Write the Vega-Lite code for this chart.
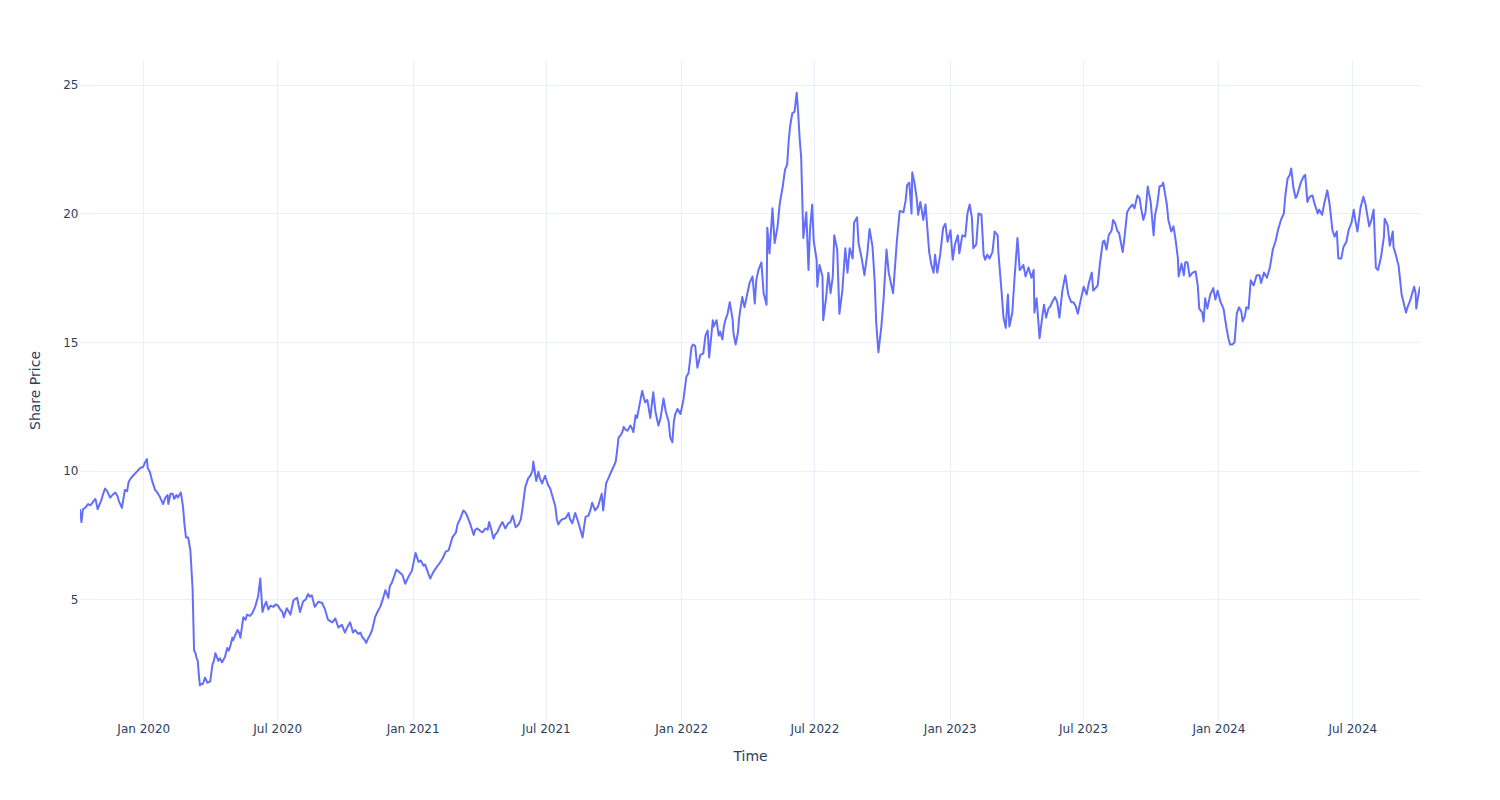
{
  "$schema": "https://vega.github.io/schema/vega-lite/v6.json",
  "width": 1340,
  "height": 660,
  "autosize": {"type": "none"},
  "padding": {"left": 80, "top": 60, "right": 80, "bottom": 80},
  "background": "white",
  "config": {
    "view": {"stroke": null},
    "axis": {
      "domain": false,
      "ticks": false,
      "grid": true,
      "gridColor": "#EBF0F8",
      "gridWidth": 1,
      "labelColor": "#2a3f5f",
      "labelFont": "DejaVu Sans",
      "labelFontSize": 12,
      "titleColor": "#2a3f5f",
      "titleFont": "DejaVu Sans",
      "titleFontSize": 14,
      "titleFontWeight": "normal"
    }
  },
  "data": {
    "values": [
      {"date":"2019-10-07","price":8.5},{"date":"2019-10-09","price":8.0},{"date":"2019-10-11","price":8.5},{"date":"2019-10-14","price":8.55},{"date":"2019-10-18","price":8.7},{"date":"2019-10-21","price":8.65},{"date":"2019-10-24","price":8.75},{"date":"2019-10-25","price":8.8},{"date":"2019-10-28","price":8.9},{"date":"2019-10-31","price":8.5},
      {"date":"2019-11-05","price":8.85},{"date":"2019-11-07","price":9.05},{"date":"2019-11-10","price":9.3},{"date":"2019-11-13","price":9.2},{"date":"2019-11-17","price":8.95},{"date":"2019-11-20","price":9.05},{"date":"2019-11-24","price":9.15},{"date":"2019-11-27","price":9.0},{"date":"2019-11-29","price":8.8},
      {"date":"2019-12-03","price":8.55},{"date":"2019-12-07","price":9.25},{"date":"2019-12-10","price":9.2},{"date":"2019-12-12","price":9.55},{"date":"2019-12-15","price":9.7},{"date":"2019-12-18","price":9.8},{"date":"2019-12-23","price":9.95},{"date":"2019-12-28","price":10.1},
      {"date":"2020-01-01","price":10.15},{"date":"2020-01-03","price":10.3},{"date":"2020-01-06","price":10.45},{"date":"2020-01-07","price":10.1},{"date":"2020-01-10","price":9.95},{"date":"2020-01-13","price":9.6},{"date":"2020-01-17","price":9.25},{"date":"2020-01-20","price":9.15},{"date":"2020-01-24","price":8.95},{"date":"2020-01-27","price":8.75},{"date":"2020-01-28","price":8.7},{"date":"2020-01-31","price":8.95},
      {"date":"2020-02-03","price":9.05},{"date":"2020-02-04","price":8.7},{"date":"2020-02-07","price":9.1},{"date":"2020-02-10","price":9.1},{"date":"2020-02-12","price":8.9},{"date":"2020-02-15","price":9.05},{"date":"2020-02-17","price":8.95},{"date":"2020-02-21","price":9.15},{"date":"2020-02-24","price":8.6},{"date":"2020-02-26","price":7.9},{"date":"2020-02-28","price":7.4},
      {"date":"2020-03-02","price":7.4},{"date":"2020-03-05","price":6.9},{"date":"2020-03-08","price":5.4},{"date":"2020-03-10","price":3.0},{"date":"2020-03-12","price":2.9},{"date":"2020-03-13","price":2.75},{"date":"2020-03-15","price":2.6},{"date":"2020-03-16","price":2.25},{"date":"2020-03-17","price":1.9},{"date":"2020-03-18","price":1.65},{"date":"2020-03-20","price":1.7},{"date":"2020-03-22","price":1.7},{"date":"2020-03-25","price":1.95},{"date":"2020-03-28","price":1.75},
      {"date":"2020-04-01","price":1.8},{"date":"2020-04-04","price":2.45},{"date":"2020-04-06","price":2.6},{"date":"2020-04-08","price":2.9},{"date":"2020-04-10","price":2.75},{"date":"2020-04-12","price":2.6},{"date":"2020-04-14","price":2.7},{"date":"2020-04-17","price":2.55},{"date":"2020-04-21","price":2.75},{"date":"2020-04-24","price":3.1},{"date":"2020-04-26","price":3.0},{"date":"2020-04-28","price":3.15},
      {"date":"2020-05-01","price":3.5},{"date":"2020-05-02","price":3.4},{"date":"2020-05-05","price":3.6},{"date":"2020-05-08","price":3.8},{"date":"2020-05-10","price":3.7},{"date":"2020-05-12","price":3.5},{"date":"2020-05-16","price":4.3},{"date":"2020-05-19","price":4.2},{"date":"2020-05-21","price":4.4},{"date":"2020-05-25","price":4.35},{"date":"2020-05-28","price":4.45},
      {"date":"2020-06-01","price":4.7},{"date":"2020-06-05","price":5.1},{"date":"2020-06-08","price":5.8},{"date":"2020-06-11","price":4.5},{"date":"2020-06-13","price":4.7},{"date":"2020-06-16","price":4.9},{"date":"2020-06-19","price":4.6},{"date":"2020-06-22","price":4.75},{"date":"2020-06-26","price":4.7},{"date":"2020-06-29","price":4.8},
      {"date":"2020-07-02","price":4.75},{"date":"2020-07-05","price":4.6},{"date":"2020-07-08","price":4.5},{"date":"2020-07-10","price":4.3},{"date":"2020-07-14","price":4.65},{"date":"2020-07-19","price":4.4},{"date":"2020-07-23","price":4.95},{"date":"2020-07-25","price":5.0},{"date":"2020-07-28","price":5.05},
      {"date":"2020-08-01","price":4.5},{"date":"2020-08-05","price":4.9},{"date":"2020-08-09","price":5.0},{"date":"2020-08-12","price":5.2},{"date":"2020-08-14","price":5.1},{"date":"2020-08-17","price":5.15},{"date":"2020-08-21","price":4.7},{"date":"2020-08-26","price":4.9},{"date":"2020-08-31","price":4.85},
      {"date":"2020-09-04","price":4.6},{"date":"2020-09-08","price":4.2},{"date":"2020-09-11","price":4.15},{"date":"2020-09-14","price":4.1},{"date":"2020-09-18","price":4.25},{"date":"2020-09-22","price":3.9},{"date":"2020-09-27","price":4.0},
      {"date":"2020-10-01","price":3.7},{"date":"2020-10-05","price":3.95},{"date":"2020-10-08","price":4.1},{"date":"2020-10-12","price":3.7},{"date":"2020-10-15","price":3.8},{"date":"2020-10-19","price":3.65},{"date":"2020-10-22","price":3.7},{"date":"2020-10-25","price":3.5},{"date":"2020-10-27","price":3.45},{"date":"2020-10-30","price":3.3},
      {"date":"2020-11-02","price":3.5},{"date":"2020-11-04","price":3.6},{"date":"2020-11-07","price":3.8},{"date":"2020-11-11","price":4.3},{"date":"2020-11-15","price":4.55},{"date":"2020-11-18","price":4.7},{"date":"2020-11-21","price":4.95},{"date":"2020-11-25","price":5.35},{"date":"2020-11-29","price":5.05},
      {"date":"2020-12-01","price":5.5},{"date":"2020-12-04","price":5.65},{"date":"2020-12-07","price":5.9},{"date":"2020-12-10","price":6.15},{"date":"2020-12-14","price":6.05},{"date":"2020-12-18","price":5.95},{"date":"2020-12-22","price":5.6},{"date":"2020-12-26","price":5.85},{"date":"2020-12-28","price":5.95},{"date":"2020-12-31","price":6.1},
      {"date":"2021-01-05","price":6.8},{"date":"2021-01-09","price":6.45},{"date":"2021-01-12","price":6.5},{"date":"2021-01-16","price":6.3},{"date":"2021-01-18","price":6.35},{"date":"2021-01-21","price":6.1},{"date":"2021-01-25","price":5.8},{"date":"2021-01-29","price":6.05},
      {"date":"2021-02-04","price":6.3},{"date":"2021-02-08","price":6.45},{"date":"2021-02-11","price":6.6},{"date":"2021-02-15","price":6.85},{"date":"2021-02-19","price":6.9},{"date":"2021-02-21","price":7.1},{"date":"2021-02-24","price":7.4},
      {"date":"2021-03-01","price":7.6},{"date":"2021-03-03","price":7.9},{"date":"2021-03-07","price":8.15},{"date":"2021-03-11","price":8.45},{"date":"2021-03-13","price":8.4},{"date":"2021-03-16","price":8.25},{"date":"2021-03-20","price":7.95},{"date":"2021-03-25","price":7.5},{"date":"2021-03-27","price":7.7},{"date":"2021-03-30","price":7.75},
      {"date":"2021-04-03","price":7.65},{"date":"2021-04-06","price":7.6},{"date":"2021-04-10","price":7.75},{"date":"2021-04-13","price":7.7},{"date":"2021-04-15","price":8.0},{"date":"2021-04-18","price":7.7},{"date":"2021-04-21","price":7.35},{"date":"2021-04-23","price":7.5},{"date":"2021-04-26","price":7.6},{"date":"2021-04-30","price":7.85},
      {"date":"2021-05-03","price":8.0},{"date":"2021-05-07","price":7.75},{"date":"2021-05-11","price":7.95},{"date":"2021-05-14","price":8.0},{"date":"2021-05-17","price":8.25},{"date":"2021-05-21","price":7.8},{"date":"2021-05-25","price":7.9},{"date":"2021-05-28","price":8.1},{"date":"2021-05-30","price":8.45},
      {"date":"2021-06-03","price":9.35},{"date":"2021-06-07","price":9.7},{"date":"2021-06-10","price":9.8},{"date":"2021-06-13","price":10.0},{"date":"2021-06-14","price":10.35},{"date":"2021-06-18","price":9.6},{"date":"2021-06-21","price":9.95},{"date":"2021-06-23","price":9.7},{"date":"2021-06-26","price":9.5},{"date":"2021-06-30","price":9.8},
      {"date":"2021-07-04","price":9.45},{"date":"2021-07-07","price":9.3},{"date":"2021-07-10","price":9.0},{"date":"2021-07-14","price":8.6},{"date":"2021-07-16","price":8.1},{"date":"2021-07-18","price":7.9},{"date":"2021-07-21","price":8.05},{"date":"2021-07-23","price":8.1},{"date":"2021-07-28","price":8.15},
      {"date":"2021-08-01","price":8.35},{"date":"2021-08-03","price":8.1},{"date":"2021-08-06","price":7.95},{"date":"2021-08-10","price":8.35},{"date":"2021-08-14","price":8.0},{"date":"2021-08-17","price":7.7},{"date":"2021-08-20","price":7.4},{"date":"2021-08-24","price":8.2},{"date":"2021-08-28","price":8.25},{"date":"2021-08-31","price":8.5},
      {"date":"2021-09-02","price":8.75},{"date":"2021-09-06","price":8.45},{"date":"2021-09-10","price":8.6},{"date":"2021-09-15","price":9.1},{"date":"2021-09-17","price":8.45},{"date":"2021-09-21","price":9.5},{"date":"2021-09-24","price":9.7},{"date":"2021-09-27","price":9.9},
      {"date":"2021-10-01","price":10.15},{"date":"2021-10-04","price":10.35},{"date":"2021-10-06","price":10.8},{"date":"2021-10-08","price":11.3},{"date":"2021-10-10","price":11.35},{"date":"2021-10-13","price":11.5},{"date":"2021-10-15","price":11.7},{"date":"2021-10-17","price":11.6},{"date":"2021-10-20","price":11.55},{"date":"2021-10-24","price":11.75},{"date":"2021-10-26","price":11.65},{"date":"2021-10-28","price":11.5},{"date":"2021-10-31","price":12.15},
      {"date":"2021-11-02","price":12.05},{"date":"2021-11-05","price":12.5},{"date":"2021-11-09","price":13.1},{"date":"2021-11-13","price":12.65},{"date":"2021-11-16","price":12.75},{"date":"2021-11-20","price":12.05},{"date":"2021-11-24","price":13.05},{"date":"2021-11-27","price":12.3},
      {"date":"2021-12-01","price":11.75},{"date":"2021-12-04","price":12.05},{"date":"2021-12-08","price":12.8},{"date":"2021-12-11","price":12.3},{"date":"2021-12-15","price":11.9},{"date":"2021-12-17","price":11.3},{"date":"2021-12-20","price":11.1},{"date":"2021-12-22","price":11.9},{"date":"2021-12-24","price":12.2},{"date":"2021-12-27","price":12.4},{"date":"2021-12-31","price":12.2},
      {"date":"2022-01-04","price":12.75},{"date":"2022-01-08","price":13.65},{"date":"2022-01-11","price":13.8},{"date":"2022-01-15","price":14.8},{"date":"2022-01-17","price":14.9},{"date":"2022-01-20","price":14.85},{"date":"2022-01-23","price":14.0},{"date":"2022-01-27","price":14.5},{"date":"2022-01-31","price":14.55},
      {"date":"2022-02-03","price":15.25},{"date":"2022-02-06","price":15.45},{"date":"2022-02-08","price":14.4},{"date":"2022-02-13","price":15.85},{"date":"2022-02-14","price":15.6},{"date":"2022-02-18","price":15.85},{"date":"2022-02-21","price":15.25},{"date":"2022-02-23","price":15.4},{"date":"2022-02-26","price":15.1},{"date":"2022-02-28","price":15.6},
      {"date":"2022-03-02","price":15.85},{"date":"2022-03-05","price":16.1},{"date":"2022-03-08","price":16.55},{"date":"2022-03-10","price":16.2},{"date":"2022-03-12","price":15.85},{"date":"2022-03-13","price":15.35},{"date":"2022-03-16","price":14.9},{"date":"2022-03-19","price":15.35},{"date":"2022-03-21","price":16.0},{"date":"2022-03-25","price":16.75},{"date":"2022-03-28","price":16.35},
      {"date":"2022-04-01","price":16.9},{"date":"2022-04-04","price":17.3},{"date":"2022-04-08","price":17.55},{"date":"2022-04-11","price":16.5},{"date":"2022-04-13","price":17.4},{"date":"2022-04-16","price":17.8},{"date":"2022-04-20","price":18.1},{"date":"2022-04-23","price":16.9},{"date":"2022-04-27","price":16.45},{"date":"2022-04-28","price":19.45},
      {"date":"2022-05-01","price":18.45},{"date":"2022-05-05","price":20.2},{"date":"2022-05-08","price":18.85},{"date":"2022-05-12","price":19.5},{"date":"2022-05-15","price":20.4},{"date":"2022-05-19","price":21.05},{"date":"2022-05-22","price":21.7},{"date":"2022-05-25","price":21.9},{"date":"2022-05-27","price":22.8},{"date":"2022-05-29","price":23.4},
      {"date":"2022-06-01","price":23.9},{"date":"2022-06-04","price":23.95},{"date":"2022-06-07","price":24.7},{"date":"2022-06-09","price":23.9},{"date":"2022-06-11","price":22.9},{"date":"2022-06-13","price":22.2},{"date":"2022-06-16","price":19.05},{"date":"2022-06-20","price":20.05},{"date":"2022-06-23","price":17.8},{"date":"2022-06-25","price":19.35},{"date":"2022-06-28","price":20.35},{"date":"2022-06-30","price":18.95},
      {"date":"2022-07-04","price":18.2},{"date":"2022-07-05","price":17.15},{"date":"2022-07-08","price":18.0},{"date":"2022-07-12","price":17.55},{"date":"2022-07-13","price":15.85},{"date":"2022-07-17","price":16.75},{"date":"2022-07-20","price":17.7},{"date":"2022-07-23","price":16.9},{"date":"2022-07-26","price":17.55},{"date":"2022-07-28","price":19.15},
      {"date":"2022-08-01","price":18.6},{"date":"2022-08-04","price":16.1},{"date":"2022-08-08","price":17.0},{"date":"2022-08-12","price":18.65},{"date":"2022-08-15","price":17.7},{"date":"2022-08-18","price":18.65},{"date":"2022-08-22","price":18.25},{"date":"2022-08-24","price":19.65},{"date":"2022-08-28","price":19.85},{"date":"2022-08-30","price":18.85},
      {"date":"2022-09-03","price":18.3},{"date":"2022-09-07","price":17.6},{"date":"2022-09-11","price":18.45},{"date":"2022-09-14","price":19.4},{"date":"2022-09-18","price":18.7},{"date":"2022-09-21","price":17.35},{"date":"2022-09-23","price":15.75},{"date":"2022-09-26","price":14.6},{"date":"2022-09-30","price":15.6},
      {"date":"2022-10-03","price":16.65},{"date":"2022-10-07","price":18.6},{"date":"2022-10-10","price":17.7},{"date":"2022-10-14","price":17.15},{"date":"2022-10-16","price":16.9},{"date":"2022-10-21","price":18.9},{"date":"2022-10-25","price":20.1},{"date":"2022-10-30","price":20.05},
      {"date":"2022-11-02","price":20.5},{"date":"2022-11-04","price":21.1},{"date":"2022-11-07","price":21.2},{"date":"2022-11-10","price":20.0},{"date":"2022-11-11","price":21.6},{"date":"2022-11-14","price":21.2},{"date":"2022-11-17","price":20.6},{"date":"2022-11-19","price":19.95},{"date":"2022-11-22","price":20.45},{"date":"2022-11-26","price":19.75},{"date":"2022-11-29","price":20.35},
      {"date":"2022-12-01","price":19.6},{"date":"2022-12-04","price":18.5},{"date":"2022-12-07","price":18.0},{"date":"2022-12-10","price":17.7},{"date":"2022-12-12","price":18.4},{"date":"2022-12-15","price":17.7},{"date":"2022-12-19","price":18.4},{"date":"2022-12-23","price":19.45},{"date":"2022-12-26","price":19.6},{"date":"2022-12-29","price":18.9},
      {"date":"2023-01-02","price":19.35},{"date":"2023-01-05","price":18.2},{"date":"2023-01-08","price":18.8},{"date":"2023-01-12","price":19.15},{"date":"2023-01-14","price":18.45},{"date":"2023-01-18","price":19.15},{"date":"2023-01-22","price":19.1},{"date":"2023-01-25","price":20.0},{"date":"2023-01-28","price":20.35},{"date":"2023-01-31","price":19.85},
      {"date":"2023-02-02","price":18.65},{"date":"2023-02-06","price":18.8},{"date":"2023-02-09","price":20.0},{"date":"2023-02-13","price":19.95},{"date":"2023-02-16","price":18.4},{"date":"2023-02-18","price":18.2},{"date":"2023-02-21","price":18.4},{"date":"2023-02-24","price":18.25},{"date":"2023-02-28","price":18.5},
      {"date":"2023-03-03","price":19.3},{"date":"2023-03-07","price":19.15},{"date":"2023-03-08","price":18.5},{"date":"2023-03-12","price":17.1},{"date":"2023-03-15","price":15.95},{"date":"2023-03-18","price":15.55},{"date":"2023-03-21","price":16.85},{"date":"2023-03-23","price":15.6},{"date":"2023-03-27","price":16.15},{"date":"2023-03-30","price":17.5},
      {"date":"2023-04-03","price":19.05},{"date":"2023-04-06","price":17.8},{"date":"2023-04-09","price":17.9},{"date":"2023-04-11","price":18.0},{"date":"2023-04-14","price":17.55},{"date":"2023-04-18","price":17.9},{"date":"2023-04-22","price":17.5},{"date":"2023-04-25","price":17.8},{"date":"2023-04-26","price":16.15},{"date":"2023-04-29","price":16.7},
      {"date":"2023-05-03","price":15.15},{"date":"2023-05-07","price":16.05},{"date":"2023-05-09","price":16.45},{"date":"2023-05-12","price":15.95},{"date":"2023-05-15","price":16.3},{"date":"2023-05-18","price":16.4},{"date":"2023-05-20","price":16.55},{"date":"2023-05-24","price":16.75},{"date":"2023-05-27","price":16.55},{"date":"2023-05-30","price":15.95},
      {"date":"2023-06-03","price":17.0},{"date":"2023-06-07","price":17.6},{"date":"2023-06-11","price":16.85},{"date":"2023-06-15","price":16.55},{"date":"2023-06-18","price":16.55},{"date":"2023-06-21","price":16.4},{"date":"2023-06-24","price":16.1},{"date":"2023-06-28","price":16.65},
      {"date":"2023-07-02","price":17.15},{"date":"2023-07-06","price":16.85},{"date":"2023-07-09","price":17.3},{"date":"2023-07-13","price":17.7},{"date":"2023-07-15","price":17.0},{"date":"2023-07-18","price":17.1},{"date":"2023-07-21","price":17.2},{"date":"2023-07-24","price":18.05},{"date":"2023-07-28","price":18.9},{"date":"2023-07-30","price":18.95},
      {"date":"2023-08-02","price":18.6},{"date":"2023-08-05","price":19.15},{"date":"2023-08-09","price":19.35},{"date":"2023-08-11","price":19.75},{"date":"2023-08-14","price":19.6},{"date":"2023-08-17","price":19.3},{"date":"2023-08-19","price":19.25},{"date":"2023-08-24","price":18.5},{"date":"2023-08-26","price":18.95},{"date":"2023-08-30","price":20.05},
      {"date":"2023-09-02","price":20.2},{"date":"2023-09-06","price":20.35},{"date":"2023-09-09","price":20.2},{"date":"2023-09-13","price":20.7},{"date":"2023-09-16","price":20.6},{"date":"2023-09-18","price":20.2},{"date":"2023-09-21","price":19.75},{"date":"2023-09-24","price":20.05},{"date":"2023-09-27","price":21.05},
      {"date":"2023-10-01","price":20.45},{"date":"2023-10-05","price":19.15},{"date":"2023-10-07","price":19.95},{"date":"2023-10-10","price":20.35},{"date":"2023-10-13","price":21.05},{"date":"2023-10-17","price":21.1},{"date":"2023-10-18","price":21.2},{"date":"2023-10-23","price":20.35},{"date":"2023-10-25","price":19.75},{"date":"2023-10-29","price":19.3},
      {"date":"2023-11-01","price":19.5},{"date":"2023-11-04","price":18.95},{"date":"2023-11-07","price":18.25},{"date":"2023-11-08","price":17.55},{"date":"2023-11-12","price":18.05},{"date":"2023-11-15","price":17.6},{"date":"2023-11-17","price":18.1},{"date":"2023-11-20","price":18.1},{"date":"2023-11-23","price":17.55},{"date":"2023-11-27","price":17.7},
      {"date":"2023-12-01","price":17.75},{"date":"2023-12-04","price":17.2},{"date":"2023-12-06","price":16.3},{"date":"2023-12-10","price":16.15},{"date":"2023-12-12","price":15.8},{"date":"2023-12-14","price":16.7},{"date":"2023-12-17","price":16.3},{"date":"2023-12-21","price":16.85},{"date":"2023-12-25","price":17.1},{"date":"2023-12-28","price":16.65},{"date":"2023-12-31","price":17.0},
      {"date":"2024-01-04","price":16.55},{"date":"2024-01-08","price":16.3},{"date":"2024-01-12","price":15.55},{"date":"2024-01-15","price":15.1},{"date":"2024-01-17","price":14.9},{"date":"2024-01-20","price":14.9},{"date":"2024-01-23","price":15.0},{"date":"2024-01-26","price":16.1},{"date":"2024-01-29","price":16.35},
      {"date":"2024-02-01","price":16.2},{"date":"2024-02-03","price":15.8},{"date":"2024-02-06","price":16.0},{"date":"2024-02-08","price":16.35},{"date":"2024-02-11","price":16.3},{"date":"2024-02-14","price":17.4},{"date":"2024-02-18","price":17.2},{"date":"2024-02-22","price":17.6},{"date":"2024-02-26","price":17.6},{"date":"2024-02-28","price":17.3},
      {"date":"2024-03-03","price":17.7},{"date":"2024-03-07","price":17.5},{"date":"2024-03-11","price":17.9},{"date":"2024-03-15","price":18.6},{"date":"2024-03-19","price":18.95},{"date":"2024-03-22","price":19.35},{"date":"2024-03-26","price":19.75},{"date":"2024-03-30","price":20.0},
      {"date":"2024-04-01","price":20.7},{"date":"2024-04-04","price":21.35},{"date":"2024-04-07","price":21.5},{"date":"2024-04-09","price":21.75},{"date":"2024-04-12","price":21.0},{"date":"2024-04-15","price":20.6},{"date":"2024-04-17","price":20.7},{"date":"2024-04-22","price":21.2},{"date":"2024-04-26","price":21.45},{"date":"2024-04-28","price":21.5},
      {"date":"2024-05-01","price":20.45},{"date":"2024-05-04","price":20.65},{"date":"2024-05-08","price":20.7},{"date":"2024-05-10","price":20.45},{"date":"2024-05-15","price":20.0},{"date":"2024-05-17","price":20.15},{"date":"2024-05-21","price":19.95},{"date":"2024-05-24","price":20.4},{"date":"2024-05-28","price":20.9},{"date":"2024-05-31","price":20.4},
      {"date":"2024-06-04","price":19.35},{"date":"2024-06-07","price":19.1},{"date":"2024-06-10","price":19.3},{"date":"2024-06-12","price":18.25},{"date":"2024-06-16","price":18.25},{"date":"2024-06-19","price":18.7},{"date":"2024-06-23","price":18.9},{"date":"2024-06-26","price":19.35},{"date":"2024-06-30","price":19.65},
      {"date":"2024-07-03","price":20.15},{"date":"2024-07-05","price":19.75},{"date":"2024-07-08","price":19.3},{"date":"2024-07-12","price":20.2},{"date":"2024-07-16","price":20.65},{"date":"2024-07-19","price":20.35},{"date":"2024-07-21","price":20.0},{"date":"2024-07-24","price":19.5},{"date":"2024-07-27","price":19.75},{"date":"2024-07-30","price":20.15},
      {"date":"2024-08-02","price":17.9},{"date":"2024-08-05","price":17.8},{"date":"2024-08-09","price":18.3},{"date":"2024-08-13","price":19.1},{"date":"2024-08-14","price":19.8},{"date":"2024-08-18","price":19.55},{"date":"2024-08-21","price":18.75},{"date":"2024-08-25","price":19.3},{"date":"2024-08-26","price":18.7},{"date":"2024-08-30","price":18.3},
      {"date":"2024-09-02","price":17.95},{"date":"2024-09-06","price":16.85},{"date":"2024-09-09","price":16.5},{"date":"2024-09-12","price":16.15},{"date":"2024-09-14","price":16.35},{"date":"2024-09-18","price":16.65},{"date":"2024-09-23","price":17.15},{"date":"2024-09-25","price":16.9},{"date":"2024-09-26","price":16.3},{"date":"2024-09-28","price":16.7},{"date":"2024-10-01","price":17.15}
    ]
  },
  "mark": {"type": "line", "color": "#636efa", "strokeWidth": 2, "strokeJoin": "round", "clip": true},
  "encoding": {
    "x": {
      "field": "date",
      "type": "temporal",
      "title": "Time",
      "scale": {"type": "utc", "domain": [{"year": 2019, "month": 10, "date": 7, "utc": true}, {"year": 2024, "month": 10, "date": 1, "utc": true}]},
      "axis": {
        "values": [
          {"year": 2020, "month": 1, "date": 1, "utc": true},
          {"year": 2020, "month": 7, "date": 1, "utc": true},
          {"year": 2021, "month": 1, "date": 1, "utc": true},
          {"year": 2021, "month": 7, "date": 1, "utc": true},
          {"year": 2022, "month": 1, "date": 1, "utc": true},
          {"year": 2022, "month": 7, "date": 1, "utc": true},
          {"year": 2023, "month": 1, "date": 1, "utc": true},
          {"year": 2023, "month": 7, "date": 1, "utc": true},
          {"year": 2024, "month": 1, "date": 1, "utc": true},
          {"year": 2024, "month": 7, "date": 1, "utc": true}
        ],
        "labelExpr": "utcFormat(datum.value, '%b %Y')",
        "labelPadding": 3,
        "titlePadding": 15,
        "labelFlush": false
      }
    },
    "y": {
      "field": "price",
      "type": "quantitative",
      "title": "Share Price",
      "scale": {"domain": [0.3, 25.97], "nice": false, "zero": false},
      "axis": {"values": [5, 10, 15, 20, 25], "labelPadding": 2, "titlePadding": 20}
    }
  }
}
